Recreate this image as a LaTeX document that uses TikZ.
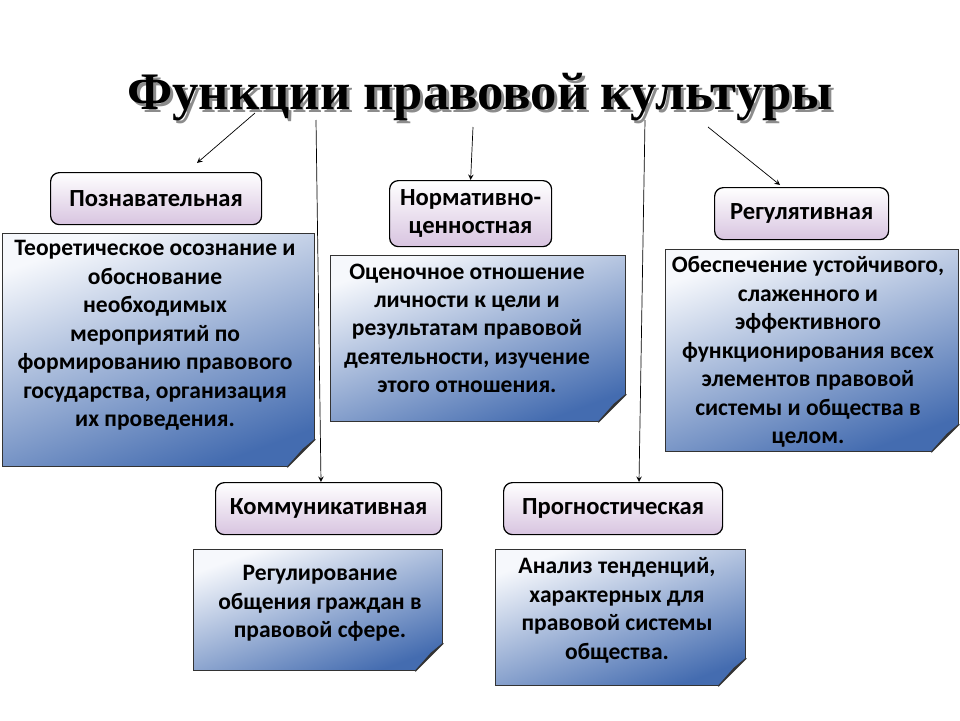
\documentclass[tikz,border=0pt]{standalone}
\usepackage{fontspec}
\setmainfont{Carlito}
\newfontfamily\titlefont{Liberation Serif}
\usetikzlibrary{positioning}
\definecolor{boxblue}{RGB}{68,108,176}
\definecolor{boxlight}{RGB}{246,248,252}
\definecolor{lilac}{RGB}{216,196,224}

\tikzset{
  lbl/.style={draw=black,rounded corners=5pt,anchor=north west,top color=white,bottom color=lilac,
    font=\fontsize{14}{16}\selectfont\bfseries,align=center,inner sep=0pt},
  info/.style={draw=black!80,anchor=north west,shading=axis,top color=boxlight,bottom color=boxblue,
    shading angle=20,inner sep=0pt},
  infotext/.style={anchor=north,align=center,font=\fontsize{13.4}{16.2}\selectfont\bfseries,inner sep=0pt},
  arr/.style={->,>=stealth,thin,black}
}
\newcommand{\foldcorner}[1]{%
  \fill[white] ([xshift=-0.56cm]#1.south east) -- (#1.south east) -- ([yshift=0.56cm]#1.south east) -- cycle;
  \draw[black!80,fill=boxblue!60!white] ([xshift=-0.56cm]#1.south east) -- ([xshift=-0.24cm,yshift=0.36cm]#1.south east) -- ([yshift=0.56cm]#1.south east) -- cycle;
}

\begin{document}
\begin{tikzpicture}[x=0.02cm,y=-0.02cm,line width=0.7pt]
\useasboundingbox (0,0) rectangle (960,720);

% title
\node[text=black!45] (shadow) at (483,100) {\titlefont\fontsize{30}{36}\selectfont\bfseries Функции правовой культуры};
\node (title) at (480,97) {\titlefont\fontsize{30}{36}\selectfont\bfseries Функции правовой культуры};

% labels
\node[lbl,minimum width=211*0.02cm,minimum height=52*0.02cm] (cog) at (50,172) {Познавательная};
\node[lbl,minimum width=162*0.02cm,minimum height=66*0.02cm] (norm) at (389,180) {Нормативно-\\ценностная};
\node[lbl,minimum width=174*0.02cm,minimum height=52*0.02cm] (reg) at (714,187) {Регулятивная};
\node[lbl,minimum width=226*0.02cm,minimum height=52*0.02cm] (com) at (215,482) {Коммуникативная};
\node[lbl,minimum width=219*0.02cm,minimum height=52*0.02cm] (prog) at (503,482) {Прогностическая};

% descriptions
\node[info,minimum width=312*0.02cm,minimum height=233*0.02cm] (cogtxt) at (2,233) {};
\node[info,minimum width=295*0.02cm,minimum height=166*0.02cm] (normtxt) at (330,255) {};
\node[info,minimum width=293*0.02cm,minimum height=202*0.02cm] (regtxt) at (665,249) {};
\node[info,minimum width=249*0.02cm,minimum height=121*0.02cm] (comtxt) at (193,549) {};
\node[info,minimum width=250*0.02cm,minimum height=136*0.02cm] (progtxt) at (495,549) {};
\foreach \n in {cogtxt,normtxt,regtxt,comtxt,progtxt}{\foldcorner{\n}}

\node[infotext] (t1) at (155,240) {Теоретическое осознание и\\обоснование\\необходимых\\мероприятий по\\формированию правового\\государства, организация\\их проведения.};
\node[infotext] (t2) at (467,263) {Оценочное отношение\\личности к цели и\\результатам правовой\\деятельности, изучение\\этого отношения.};
\node[infotext] (t3) at (808,256) {Обеспечение устойчивого,\\слаженного и\\эффективного\\функционирования всех\\элементов правовой\\системы и общества в\\целом.};
\node[infotext] (t4) at (320,565) {Регулирование\\общения граждан в\\правовой сфере.};
\node[infotext] (t5) at (617,557) {Анализ тенденций,\\характерных для\\правовой системы\\общества.};

% arrows
\coordinate (a1) at (255,113);
\coordinate (a2) at (316,120);
\coordinate (a3) at (473,127);
\coordinate (a4) at (645,120);
\coordinate (a5) at (708,127);
\draw[arr] (a1) -- (197,163);
\draw[arr] (a2) -- (com.north east -| 321,0);
\draw[arr] (a3) -- (norm.north);
\draw[arr] (a4) -- (prog.north east -| 639,0);
\draw[arr] (a5) -- (780,185);
\end{tikzpicture}
\end{document}
